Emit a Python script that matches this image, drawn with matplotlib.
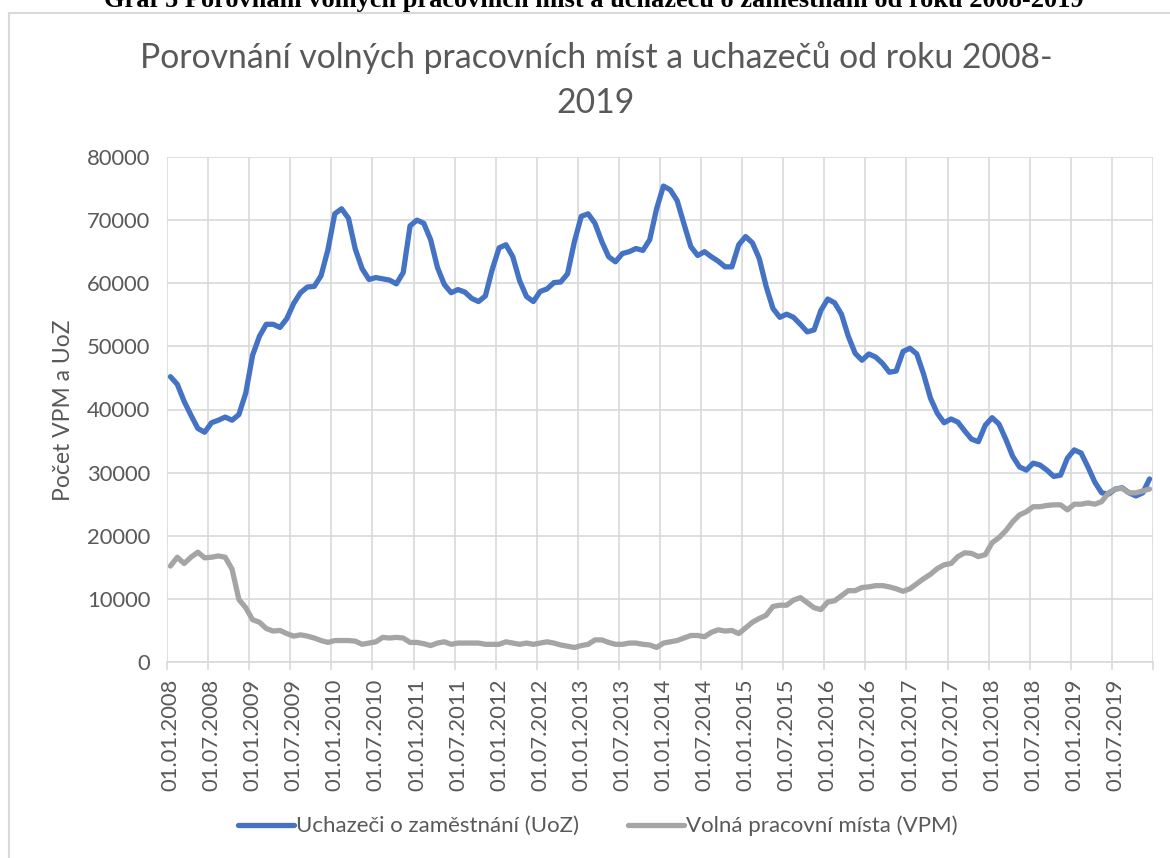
import matplotlib
matplotlib.use('Agg')
import numpy as np
from matplotlib import pyplot as plt
from matplotlib.lines import Line2D

# data
months_per_label = 6
date_labels = [
    '01.01.2008', '01.07.2008', '01.01.2009', '01.07.2009', '01.01.2010', '01.07.2010',
    '01.01.2011', '01.07.2011', '01.01.2012', '01.07.2012', '01.01.2013', '01.07.2013',
    '01.01.2014', '01.07.2014', '01.01.2015', '01.07.2015', '01.01.2016', '01.07.2016',
    '01.01.2017', '01.07.2017', '01.01.2018', '01.07.2018', '01.01.2019', '01.07.2019',
]

# Uchazeci o zamestnani, monthly 2008-2019
uoz = [
    45200, 44000, 41300, 39100, 37000, 36400, 37900, 38300, 38800, 38300, 39200, 42600,
    48600, 51600, 53500, 53500, 53000, 54400, 56800, 58500, 59400, 59500, 61200, 65300,
    71000, 71800, 70300, 65400, 62300, 60600, 60900, 60700, 60500, 59900, 61700, 69100,
    70000, 69500, 66900, 62500, 59800, 58500, 59000, 58600, 57600, 57100, 58000, 62200,
    65600, 66100, 64200, 60400, 57900, 57100, 58700, 59100, 60100, 60200, 61500, 66600,
    70600, 71000, 69500, 66600, 64200, 63400, 64700, 65000, 65500, 65200, 66900, 71800,
    75400, 74800, 73100, 69400, 65800, 64400, 65000, 64200, 63500, 62600, 62600, 66100,
    67400, 66400, 63900, 59500, 56000, 54600, 55100, 54600, 53500, 52300, 52600, 55700,
    57500, 56900, 55100, 51600, 48900, 47800, 48800, 48300, 47300, 45900, 46100, 49200,
    49700, 48800, 45600, 41800, 39400, 37900, 38500, 38000, 36600, 35300, 34900, 37500,
    38700, 37700, 35300, 32600, 30900, 30400, 31500, 31200, 30400, 29400, 29600, 32300,
    33600, 33100, 30900, 28500, 26800, 26600, 27400, 27600, 26800, 26300, 26800, 29000,
]

# Volna pracovni mista, monthly 2008-2019
vpm = [
    15200, 16600, 15600, 16600, 17400, 16500, 16600, 16800, 16600, 14700, 9900, 8600,
    6700, 6300, 5300, 4900, 5000, 4500, 4100, 4300, 4100, 3800, 3400, 3100,
    3400, 3400, 3400, 3300, 2800, 3000, 3200, 3900, 3800, 3900, 3800, 3100,
    3100, 2900, 2600, 3000, 3200, 2800, 3000, 3000, 3000, 3000, 2800, 2800,
    2800, 3200, 3000, 2800, 3000, 2800, 3000, 3200, 3000, 2700, 2500, 2300,
    2600, 2800, 3500, 3500, 3100, 2800, 2800, 3000, 3000, 2800, 2700, 2300,
    3000, 3200, 3400, 3800, 4200, 4200, 4000, 4700, 5100, 4900, 5000, 4500,
    5400, 6300, 6900, 7400, 8800, 9000, 9000, 9800, 10200, 9400, 8600, 8300,
    9500, 9700, 10500, 11300, 11300, 11800, 11900, 12100, 12100, 11900, 11600, 11200,
    11600, 12400, 13200, 13900, 14800, 15400, 15600, 16700, 17300, 17200, 16700, 17000,
    18900, 19700, 20800, 22200, 23300, 23800, 24600, 24600, 24800, 24900, 24900, 24100,
    25000, 25000, 25200, 25000, 25400, 26800, 27400, 27500, 26800, 26800, 27100, 27400,
]

series_names = ['Uchazeči o zaměstnání (UoZ)', 'Volná pracovní místa (VPM)']
title_lines = ['Porovnání volných pracovních míst a uchazečů od roku 2008-', '2019']
header_text = 'Graf 5 Porovnání volných pracovních míst a uchazečů o zaměstnání od roku 2008-2019'
y_label = 'Počet VPM a UoZ'

# style
FONT = ['Lato', 'DejaVu Sans']
TEXT_C = '#595959'
GRID_C = '#D9D9D9'
BLUE = '#4472C4'
GREY = '#A5A5A5'
W, H = 1170, 858

plt.rcParams['font.family'] = FONT

fig = plt.figure(figsize=(W / 100, H / 100), dpi=100)
ax = fig.add_axes([167 / W, 1 - 662 / H, (1153 - 167) / W, (662 - 157) / H])

n = len(uoz)
x = np.arange(n) + 0.5
ax.plot(x, uoz, color=BLUE, lw=3.8, solid_joinstyle='round', solid_capstyle='round',
        label=series_names[0], zorder=3)
ax.plot(x, vpm, color=GREY, lw=3.8, solid_joinstyle='round', solid_capstyle='round',
        label=series_names[1], zorder=4)

ax.set_xlim(0, n)
ax.set_ylim(0, 80000)
ax.set_yticks(np.arange(0, 80001, 10000))
ax.set_yticklabels([str(v) for v in range(0, 80001, 10000)])

# gridlines on category boundaries, labels on category centres
ax.set_xticks(np.arange(0, n + 1, months_per_label))
ax.set_xticklabels([])
ax.set_xticks(np.arange(len(date_labels)) * months_per_label + 0.5, minor=True)
ax.set_xticklabels(date_labels, minor=True, rotation=90)

ax.grid(True, which='major', color=GRID_C, lw=1.2, zorder=0)
for s in ax.spines.values():
    s.set_visible(False)
ax.spines['bottom'].set_visible(True)
ax.spines['bottom'].set_color(GRID_C)
ax.spines['bottom'].set_linewidth(1.2)

ax.tick_params(axis='x', which='major', length=6, width=1.2, color=GRID_C, direction='out')
ax.tick_params(axis='x', which='minor', length=0, pad=12, labelsize=15.8, labelcolor=TEXT_C)
ax.tick_params(axis='y', length=0, pad=12, labelsize=15.8, labelcolor=TEXT_C)

ax.set_ylabel(y_label, fontsize=16.5, color=TEXT_C)
ax.yaxis.set_label_coords(-(167 - 74) / (1153 - 167), (662 - 410) / (662 - 157))

fig.text(596 / W, 1 - 68 / H, title_lines[0], ha='center', va='baseline', fontsize=24.3,
         color=TEXT_C)
fig.text(596 / W, 1 - 113 / H, title_lines[1], ha='center', va='baseline', fontsize=24.3,
         color=TEXT_C)

fig.text(594 / W, 1 - 7 / H, header_text, ha='center', va='baseline', fontsize=19,
         fontweight='bold', family=['Liberation Serif', 'DejaVu Serif'], color='black')

# chart area border
fig.add_artist(Line2D([9 / W, 9 / W], [0, 1 - 13 / H], color=GRID_C, lw=1.5))
fig.add_artist(Line2D([9 / W, 1], [1 - 13 / H, 1 - 13 / H], color=GRID_C, lw=1.5))

leg = fig.legend(loc='center', bbox_to_anchor=(598 / W, 1 - 826 / H), ncol=2, frameon=False,
                 fontsize=16, handlelength=2.5, handletextpad=0.12, columnspacing=2.2,
                 labelcolor=TEXT_C)

fig.savefig('out.png', dpi=100)
